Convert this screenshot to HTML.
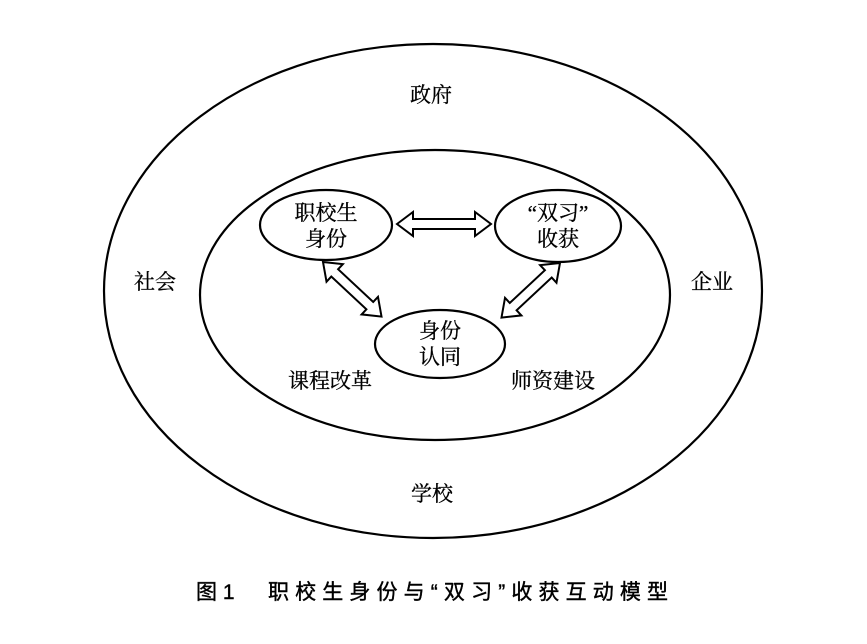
<!DOCTYPE html>
<html><head><meta charset="utf-8"><style>
html,body{margin:0;padding:0;background:#fff;}
svg{display:block;}
text{font-family:"Liberation Serif","Noto Serif CJK SC","Noto Sans CJK SC",serif;fill:#000;}
.cap{font-family:"Liberation Sans","Noto Sans CJK SC",sans-serif;}
</style></head><body>
<svg width="867" height="644" viewBox="0 0 867 644" xmlns="http://www.w3.org/2000/svg">
<g fill="none" stroke="#000" stroke-width="2.2">
<ellipse cx="433" cy="291" rx="329" ry="247"/>
<ellipse cx="435" cy="295" rx="235" ry="145"/>
<ellipse cx="326" cy="225" rx="66" ry="35"/>
<ellipse cx="558" cy="226" rx="63" ry="36"/>
<ellipse cx="440" cy="344" rx="65" ry="34"/>
</g>
<g fill="#fff" stroke="#000" stroke-width="2">
<polygon points="397,224 413,212 413,219 475,219 475,212 491,224 475,236 475,229 413,229 413,236"/>
<g transform="translate(323,262) rotate(43)">
<polygon points="0,0 16,-12 16,-5 64,-5 64,-12 80,0 64,12 64,5 16,5 16,12"/>
</g>
<g transform="translate(560,263) rotate(137)">
<polygon points="0,0 16,-12 16,-5 64,-5 64,-12 80,0 64,12 64,5 16,5 16,12"/>
</g>
</g>
<g font-size="21" text-anchor="middle" stroke="#000" stroke-width="0.3">
<text x="431" y="102">政府</text>
<text x="155" y="289">社会</text>
<text x="712" y="289">企业</text>
<text x="432" y="501">学校</text>
<text x="326" y="220">职校生</text>
<text x="326" y="246">身份</text>
<text x="558" y="220">“双习”</text>
<text x="558" y="246">收获</text>
<text x="440" y="338">身份</text>
<text x="440" y="364">认同</text>
<text x="330" y="388">课程改革</text>
<text x="553" y="388">师资建设</text>
</g>
<text class="cap" x="196" y="599" font-size="21" stroke="#000" stroke-width="0.4">图 1</text>
<text class="cap" x="268" y="599" font-size="21" stroke="#000" stroke-width="0.4" textLength="400" lengthAdjust="spacing">职校生身份与“双习”收获互动模型</text>
</svg>
</body></html>
